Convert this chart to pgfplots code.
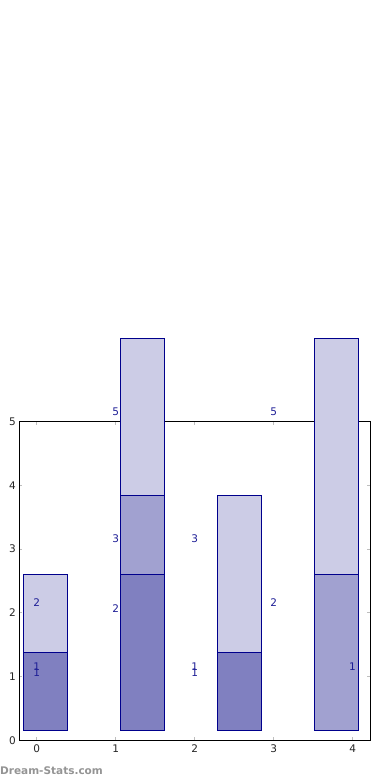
\documentclass[border=0pt]{standalone}
\usepackage{fontspec}
\setmainfont{DejaVu Sans}
\usepackage{pgfplots}
\pgfplotsset{compat=1.18}
\definecolor{cDark}{RGB}{128,128,192}
\definecolor{cMid}{RGB}{161,161,208}
\definecolor{cLight}{RGB}{204,204,230}
\definecolor{cEdge}{RGB}{0,0,140}
\definecolor{cText}{RGB}{30,30,150}
\definecolor{cTick}{RGB}{190,190,190}
\begin{document}
\begin{tikzpicture}
\useasboundingbox (0bp,0bp) rectangle (390bp,780bp);
\begin{axis}[
  at={(19.3bp,39.7bp)}, anchor=south west,
  scale only axis, width=351bp, height=318.6bp,
  xmin=-0.22, xmax=4.222, ymin=0, ymax=5,
  clip=false,
  xtick={0,1,2,3,4}, ytick={0,1,2,3,4,5},
  tick align=inside, major tick length=3bp,
  tick style={cTick, line width=1.2bp},
  axis line style={black, line width=0.8bp},
  every tick label/.append style={font=\fontsize{10.5bp}{12bp}\selectfont, text=black!85},
  /pgf/number format/assume math mode=true,
  xticklabel style={yshift=-1bp},
  seg/.style={draw=cEdge, line width=0.9bp, mark=none},
]
% bar 0
\addplot[seg, fill=cDark]  coordinates {(-0.170,0.15) (0.387,0.15) (0.387,1.386) (-0.170,1.386)} -- cycle;
\addplot[seg, fill=cLight] coordinates {(-0.170,1.386) (0.387,1.386) (0.387,2.606) (-0.170,2.606)} -- cycle;
% bar 1
\addplot[seg, fill=cDark]  coordinates {(1.054,0.15) (1.611,0.15) (1.611,2.606) (1.054,2.606)} -- cycle;
\addplot[seg, fill=cMid]   coordinates {(1.054,2.606) (1.611,2.606) (1.611,3.846) (1.054,3.846)} -- cycle;
\addplot[seg, fill=cLight] coordinates {(1.054,3.846) (1.611,3.846) (1.611,6.31) (1.054,6.31)} -- cycle;
% bar 2
\addplot[seg, fill=cDark]  coordinates {(2.286,0.15) (2.843,0.15) (2.843,1.386) (2.286,1.386)} -- cycle;
\addplot[seg, fill=cLight] coordinates {(2.286,1.386) (2.843,1.386) (2.843,3.846) (2.286,3.846)} -- cycle;
% bar 3
\addplot[seg, fill=cMid]   coordinates {(3.514,0.15) (4.071,0.15) (4.071,2.606) (3.514,2.606)} -- cycle;
\addplot[seg, fill=cLight] coordinates {(3.514,2.606) (4.071,2.606) (4.071,6.31) (3.514,6.31)} -- cycle;
\begin{scope}[every node/.style={font=\fontsize{10.5bp}{12bp}\selectfont, text=cText, inner sep=0pt}]
\node at (axis cs:0,2.16) {2};
\node at (axis cs:0,1.155) {1};
\node at (axis cs:0,1.067) {1};
\node at (axis cs:1,5.15) {5};
\node at (axis cs:1,3.16) {3};
\node at (axis cs:1,2.06) {2};
\node at (axis cs:2,3.16) {3};
\node at (axis cs:2,1.155) {1};
\node at (axis cs:2,1.067) {1};
\node at (axis cs:3,5.15) {5};
\node at (axis cs:3,2.16) {2};
\node at (axis cs:3.995,1.155) {1};
\end{scope}
\end{axis}
\node[anchor=west, inner sep=0pt, text=black!42, font=\fontsize{10.5bp}{12bp}\selectfont\bfseries] at (0bp,9.5bp) {Dream-Stats.com};
\end{tikzpicture}
\end{document}
